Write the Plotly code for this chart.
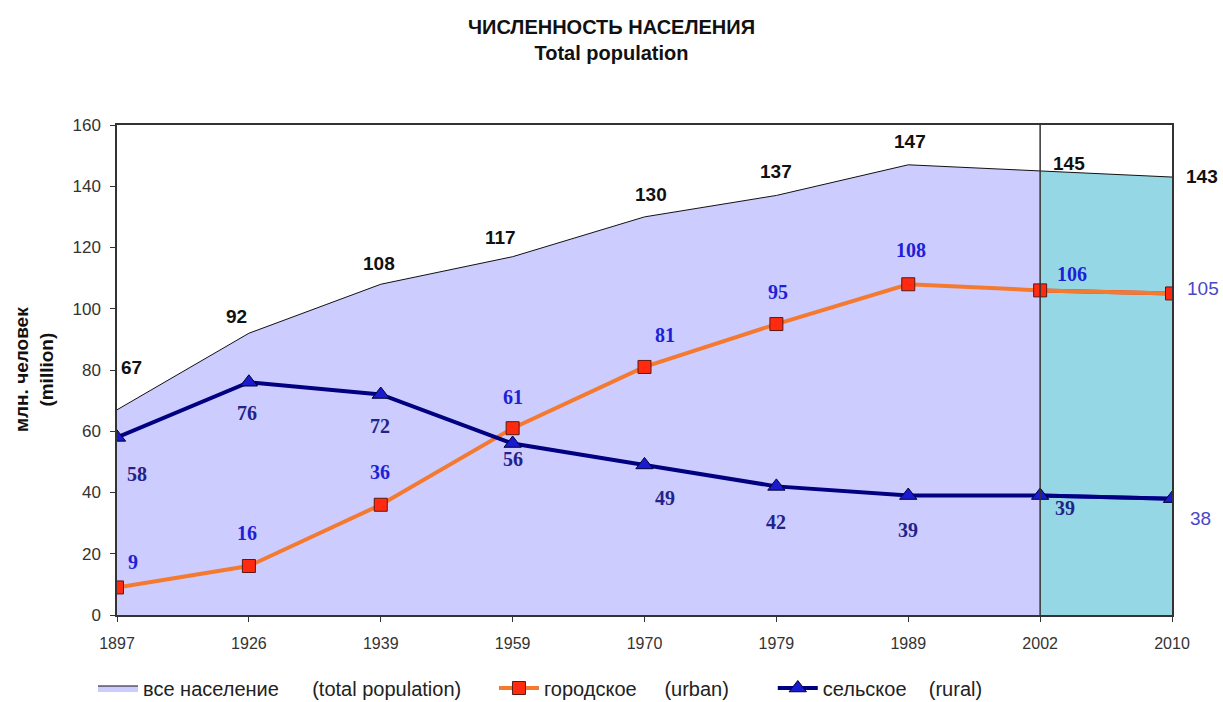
import plotly.graph_objects as go

years = ["1897", "1926", "1939", "1959", "1970", "1979", "1989", "2002", "2010"]
total = [67, 92, 108, 117, 130, 137, 147, 145, 143]
urban = [9, 16, 36, 61, 81, 95, 108, 106, 105]
rural = [58, 76, 72, 56, 49, 42, 39, 39, 38]
y_ticks = [0, 20, 40, 60, 80, 100, 120, 140, 160]

# label pixel offsets (x, y)
total_off = [(14, 42), (-12, 17), (-2, 21), (-12, 19), (6, 22), (0, 24), (2, 23), (29, 7), (30, 1)]
urban_off = [(16, 25), (-2, 33), (-1, 33), (0, 31), (20, 32), (2, 32), (3, 34), (32, 16), (31, 5)]
rural_off = [(20, -37), (-2, -31), (-1, -31), (0, -15), (20, -33), (0, -36), (0, -34), (25, -12), (28, -20)]

SANS = "Liberation Sans, Arial, sans-serif"
SERIF = "Liberation Serif, Times New Roman, serif"
NB = "\u00a0"

fig = go.Figure()

# total population area (historic part)
fig.add_trace(go.Scatter(
    x=years[:8], y=total[:8], mode="lines", fill="tozeroy",
    fillcolor="#ccccff", line=dict(color="#111111", width=1),
    name="все население" + NB * 6 + "(total population)" + NB * 5, legendrank=1,
))
# total population area (2002-2010)
fig.add_trace(go.Scatter(
    x=years[7:], y=total[7:], mode="lines", fill="tozeroy",
    fillcolor="#96d7e6", line=dict(color="#111111", width=1),
    showlegend=False,
))

# urban
fig.add_trace(go.Scatter(
    x=years[7:], y=urban[7:], mode="lines", line=dict(color="#dd2a2a", width=4),
    showlegend=False,
))
fig.add_trace(go.Scatter(
    x=years, y=urban, mode="lines+markers",
    line=dict(color="#f47a30", width=4),
    marker=dict(symbol="square", size=13, color="#ff2a10", line=dict(color="#5a1a10", width=1)),
    name="городское" + NB * 5 + "(urban)" + NB * 7, legendrank=2,
))
# rural
fig.add_trace(go.Scatter(
    x=years[7:], y=rural[7:], mode="lines", line=dict(color="#3030d0", width=4),
    showlegend=False,
))
fig.add_trace(go.Scatter(
    x=years, y=rural, mode="lines+markers",
    line=dict(color="#000080", width=4),
    marker=dict(symbol="triangle-up", size=15, color="#1a1ad0", line=dict(color="#000030", width=1)),
    name="сельское" + NB * 4 + "(rural)", legendrank=3,
))

ann = []
for i, v in enumerate(total):
    ann.append(dict(x=i, y=v, text=f"<b>{v}</b>", showarrow=False, xshift=total_off[i][0],
                    yshift=total_off[i][1], font=dict(family=SANS, size=19, color="#111111")))
for i, v in enumerate(urban):
    last = i == len(years) - 1
    ann.append(dict(x=i, y=v, text=(str(v) if last else f"<b>{v}</b>"), showarrow=False,
                    xshift=urban_off[i][0], yshift=urban_off[i][1],
                    font=dict(family=SANS if last else SERIF, size=19 if last else 20,
                              color="#4848c8" if last else "#1f1fd6")))
for i, v in enumerate(rural):
    last = i == len(years) - 1
    ann.append(dict(x=i, y=v, text=(str(v) if last else f"<b>{v}</b>"), showarrow=False,
                    xshift=rural_off[i][0], yshift=rural_off[i][1],
                    font=dict(family=SANS if last else SERIF, size=19 if last else 20,
                              color="#4848c8" if last else "#22228a")))

ann.append(dict(xref="paper", yref="paper", x=(34 - 117) / 1055, xanchor="center",
                y=0.5, yanchor="middle", textangle=-90, showarrow=False,
                text="<b>млн. человек</b><br><b>(million)</b>",
                font=dict(family=SANS, size=19, color="#111111")))

fig.update_layout(
    width=1223, height=702,
    margin=dict(l=117, r=51, t=125, b=87),
    paper_bgcolor="white", plot_bgcolor="white",
    title=dict(text="<b>ЧИСЛЕННОСТЬ НАСЕЛЕНИЯ</b><br><b>Total population</b>",
               x=0.5, xanchor="center", y=0.952, yanchor="top",
               font=dict(family=SANS, size=20, color="#111111")),
    annotations=ann,
    shapes=[dict(type="line", xref="x", yref="y", x0=7, x1=7, y0=0, y1=160,
                 line=dict(color="#333333", width=1.5))],
    legend=dict(orientation="h", xref="container", yref="container",
                x=93 / 1223, xanchor="left", y=14 / 702, yanchor="middle",
                font=dict(family=SANS, size=20, color="#222222"), traceorder="normal",
                itemwidth=40, bgcolor="rgba(0,0,0,0)"),
    showlegend=True,
)
fig.update_xaxes(type="category", categoryorder="array", categoryarray=years,
                 range=[0, len(years) - 1], showgrid=False, showline=True, mirror=True,
                 linecolor="#333333", linewidth=1.5, ticks="outside", ticklen=5,
                 tickcolor="#333333", automargin=False, ticklabelstandoff=8,
                 tickfont=dict(family=SANS, size=16, color="#333333"), zeroline=False)
fig.update_yaxes(range=[0, 160], tickvals=y_ticks, showgrid=False, showline=True, mirror=True,
                 linecolor="#333333", linewidth=1.5, ticks="outside", ticklen=5,
                 tickcolor="#333333", automargin=False, ticklabelstandoff=6,
                 tickfont=dict(family=SANS, size=17, color="#333333"), zeroline=False)

fig.write_html("out.html", config={"displayModeBar": False},
               post_script="document.body.style.margin='0';document.body.style.overflow='hidden';")
